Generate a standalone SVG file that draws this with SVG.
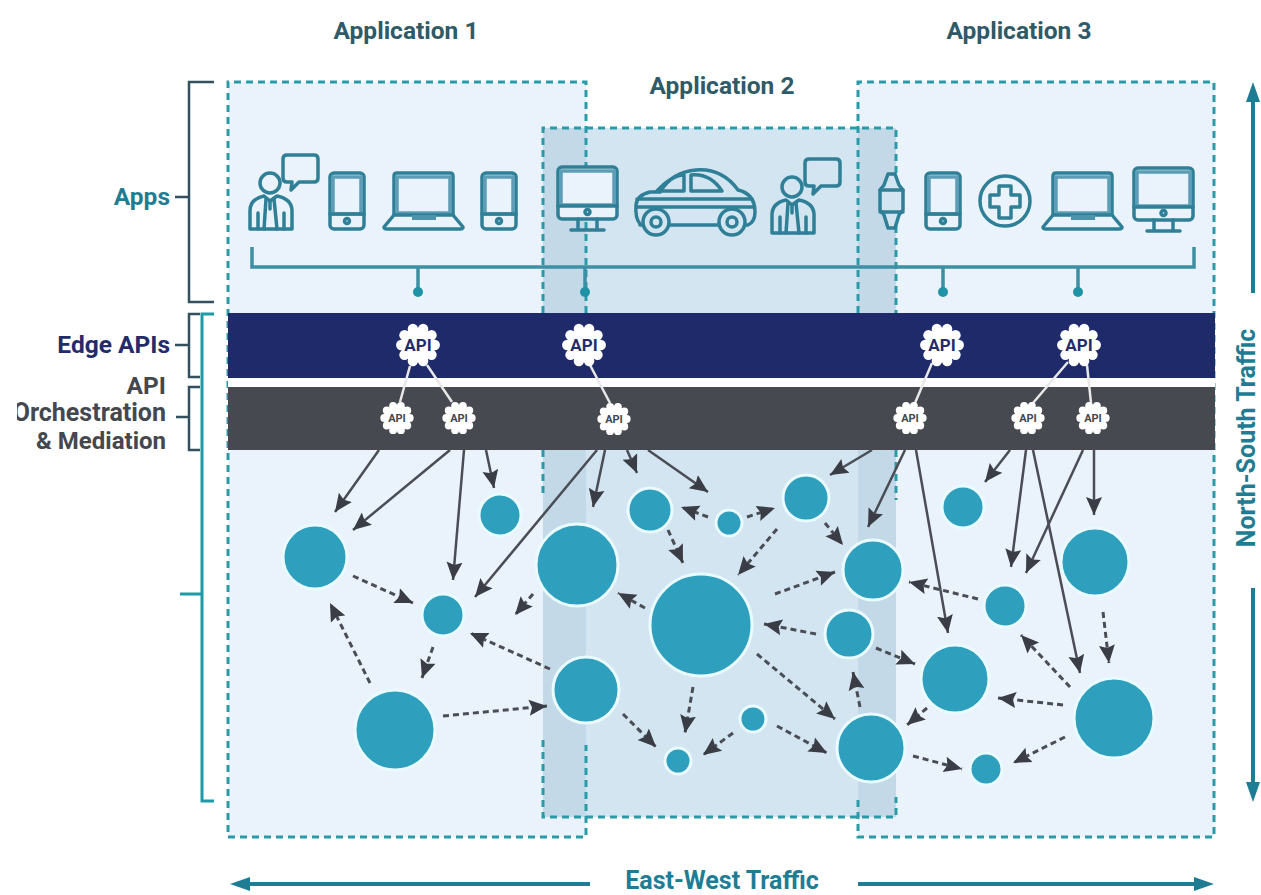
<svg xmlns="http://www.w3.org/2000/svg" width="1261" height="895" viewBox="0 0 1261 895">
<style>
.lbl{font-family:Roboto,"Liberation Sans",sans-serif;font-weight:700;font-size:24.500px;text-anchor:middle}
.app{fill:#2f5a68}
.teal{fill:#1e7d93}
.gray{fill:#44474d;text-anchor:end}
.navy{fill:#232b6b;text-anchor:end}
.dash{fill:none;stroke:#2a9ba6;stroke-width:3;stroke-dasharray:7 5}
.br{fill:none;stroke:#33505e;stroke-width:2.500}
.brt{fill:none;stroke:#1e9aa6;stroke-width:3}
.ic{fill:none;stroke:#2f7f97;stroke-width:3.500;stroke-linejoin:round;stroke-linecap:round}
.icf{fill:#eaf3fb;stroke:#2f7f97;stroke-width:3.500;stroke-linejoin:round}
.icd{fill:#d3e5f1;stroke:#2f7f97;stroke-width:3.500;stroke-linejoin:round}
.in{fill:none;stroke:#5d9db5;stroke-width:3.500}
.bus{fill:none;stroke:#3d8fa3;stroke-width:3.500}
.dot{fill:#1f93a6}
.n{fill:#2f9fbe;stroke:#e9fbff;stroke-width:3}
.s{fill:none;stroke:#4a4d55;stroke-width:2.500;marker-end:url(#ah)}
.d{fill:none;stroke:#4a4d55;stroke-width:3;stroke-dasharray:6 4;marker-end:url(#ah)}
.w{stroke:#e8e8e8;stroke-width:2.500;fill:none}
.g1{font-family:Roboto,"Liberation Sans",sans-serif;font-weight:700;font-size:17px;text-anchor:middle;fill:#232b6b}
.g2{font-family:Roboto,"Liberation Sans",sans-serif;font-weight:700;font-size:11px;text-anchor:middle;fill:#44474d}
.big{fill:none;stroke:#1e7d93;stroke-width:4}
.hd{fill:#1e7d93}
</style>
<defs>
<marker id="ah" markerUnits="userSpaceOnUse" markerWidth="22" markerHeight="20" refX="18" refY="9" orient="auto"><path d="M0 1 L18 9 L0 17 L3 9Z" fill="#3a3d45"/></marker>
<clipPath id="cut"><rect x="17" y="395" width="160" height="40"/></clipPath>
<g id="gear">
<circle r="15.500" fill="#fff"/>
<circle cx="15" cy="0" r="4.600" fill="#fff"/><circle cx="12.100" cy="8.800" r="4.600" fill="#fff"/><circle cx="4.600" cy="14.300" r="4.600" fill="#fff"/><circle cx="-4.600" cy="14.300" r="4.600" fill="#fff"/><circle cx="-12.100" cy="8.800" r="4.600" fill="#fff"/><circle cx="-15" cy="0" r="4.600" fill="#fff"/><circle cx="-12.100" cy="-8.800" r="4.600" fill="#fff"/><circle cx="-4.600" cy="-14.300" r="4.600" fill="#fff"/><circle cx="4.600" cy="-14.300" r="4.600" fill="#fff"/><circle cx="12.100" cy="-8.800" r="4.600" fill="#fff"/>
</g>
<g id="person">
<circle class="ic" cx="270" cy="183" r="10"/>
<path class="ic" d="M250 229V211Q250 199 264 196L270 201L277 196Q292 199 292 211V229Z"/>
<path class="ic" d="M258 229V213M284 229V213M266 199L264 229M274 199L277 229M270 201V209"/>
<path class="ic" d="M287 155H314Q318 155 318 159V178Q318 182 314 182H299L291 190L292 182H287Q283 182 283 178V159Q283 155 287 155Z"/>
</g>
<g id="phone">
<rect class="icf" x="0" y="0" width="34" height="56" rx="4"/>
<rect class="in" x="3" y="4" width="28" height="37"/>
<path class="ic" d="M0 41H34"/>
<circle class="ic" cx="17" cy="48" r="2.500"/>
</g>
<g id="laptop">
<path class="icf" d="M10 42V3Q10 0 13 0H66Q69 0 69 3V42Z"/>
<rect class="in" x="13" y="4" width="53" height="36"/>
<path class="icf" d="M10 42H69L79 54Q79 56 76 56H3Q0 56 0 54Z"/>
<path d="M28 42H52V47H28Z" fill="#4f93ab"/>
</g>
<g id="monitor">
<rect class="icf" x="0" y="0" width="59" height="52" rx="4"/>
<rect class="in" x="3" y="4" width="53" height="34"/>
<path class="ic" d="M0 39H59M20 52V62M39 52V62M13 63H46"/>
<circle class="ic" cx="29.500" cy="45" r="2.500"/>
</g>
</defs>
<rect width="1261" height="895" fill="#fff"/>

<g id="panels">
<rect x="228" y="82" width="358" height="755" fill="#eaf3fb"/>
<rect x="858" y="82" width="356" height="755" fill="#eaf3fb"/>
<rect x="543" y="128" width="353" height="689" fill="#d3e5f1"/>
<rect x="543" y="128" width="43" height="689" fill="#c3d9e8"/>
<rect x="858" y="128" width="38" height="689" fill="#c3d9e8"/>
<path class="dash" d="M586 313V82H228V837H586V745"/>
<path class="dash" d="M858 800V837H1214V82H858V313"/>
<path class="dash" d="M543 313V128H896V313M543 450V493M543 740V817H896V797M896 450V500"/>
</g>

<g id="bands">
<rect x="228" y="313" width="987" height="65" fill="#1f2a6b"/>
<rect x="228" y="378" width="987" height="9" fill="#fff"/>
<rect x="228" y="387" width="987" height="63" fill="#46494f"/>
</g>

<g id="brackets">
<path class="br" d="M214 82H189V302H214M175 197H189"/>
<path class="br" d="M200 314H189V377H200M175 345H189"/>
<path class="br" d="M200 387H189V450H200M176 417H189"/>
<path class="brt" d="M214 314H202V801H214M180 594H202"/>
</g>

<g id="labels">
<text class="lbl app" x="406" y="39">Application 1</text>
<text class="lbl app" x="722" y="94">Application 2</text>
<text class="lbl app" x="1019" y="39">Application 3</text>
<text class="lbl teal" x="170" y="205" style="text-anchor:end">Apps</text>
<text class="lbl navy" x="170" y="353">Edge APIs</text>
<text class="lbl gray" x="166" y="394">API</text>
<text class="lbl gray" x="166" y="421" clip-path="url(#cut)" style="font-size:25px">Orchestration</text>
<text class="lbl gray" x="166" y="449" style="font-size:24px">&amp; Mediation</text>
<text class="lbl teal" x="722" y="889" style="font-size:25px">East-West Traffic</text>
<text class="lbl teal" transform="translate(1255 438) rotate(-90)" style="font-size:25px">North-South Traffic</text>
</g>

<g id="icons">
<use href="#person"/>
<use href="#phone" x="330" y="173"/>
<use href="#laptop" x="384" y="173"/>
<use href="#phone" x="482" y="173"/>
<use href="#monitor" x="558" y="167"/>
<g id="car">
<path class="icd" d="M640 224Q635 218 636 205Q637 195 650 192H660Q672 172 696 170Q722 168 738 190Q755 194 755 212Q755 222 748 225H640Z"/>
<path class="ic" d="M657 191Q672 175 684 175V191ZM691 175Q710 173 722 191H691ZM637 199H752M637 207H754"/>
<circle class="icd" cx="656" cy="222" r="13"/><circle class="ic" cx="656" cy="222" r="5"/>
<circle class="icd" cx="732" cy="222" r="13"/><circle class="ic" cx="732" cy="222" r="5"/>
</g>
<use href="#person" x="522" y="4"/>
<g id="watch">
<path class="icd" d="M884 185L888 174H895L899 185L903 190V210L899 215L895 228H888L884 215L880 210V190Z"/>
<path class="ic" d="M880 190H903M880 212H903"/>
</g>
<use href="#phone" x="926" y="173"/>
<g id="plus">
<circle class="ic" cx="1005" cy="201" r="25"/>
<path class="ic" d="M999 186H1011V195H1020V207H1011V218H999V207H990V195H999Z"/>
</g>
<use href="#laptop" x="1043" y="173"/>
<use href="#monitor" x="1134" y="168"/>
</g>

<g id="connectors">
<path class="bus" d="M252 247V267H1194V247M418 267V292M585 267V292M943 267V292M1078 267V292"/>
<circle class="dot" cx="418" cy="292" r="5"/><circle class="dot" cx="585" cy="292" r="5"/><circle class="dot" cx="943" cy="292" r="5"/><circle class="dot" cx="1078" cy="292" r="5"/>
<path class="w" d="M410 366L400 402M427 365L452 402M590 365L610 403M932 363L915 403M1068 362L1033 403M1087 365L1091 403"/>
<path class="s" d="M379 450L335 512"/>
<path class="s" d="M450 450L353 530"/>
<path class="s" d="M464 450L453 580"/>
<path class="s" d="M486 450L494 488"/>
<path class="s" d="M597 450L475 597"/>
<path class="s" d="M605 450L593 507"/>
<path class="s" d="M627 450L637 473"/>
<path class="s" d="M648 450L708 492"/>
<path class="s" d="M872 450L830 475"/>
<path class="s" d="M905 450L868 527"/>
<path class="s" d="M916 450L948 633"/>
<path class="s" d="M1010 450L985 482"/>
<path class="s" d="M1026 450L1011 567"/>
<path class="s" d="M1033 450L1080 673"/>
<path class="s" d="M1083 450L1026 573"/>
<path class="s" d="M1094 450V515"/>
<path class="d" d="M353 576L413 603"/>
<path class="d" d="M370 683L330 603"/>
<path class="d" d="M433 647L422 678"/>
<path class="d" d="M533 594L515 615"/>
<path class="d" d="M550 669L470 633"/>
<path class="d" d="M443 716L547 706"/>
<path class="d" d="M645 608L618 593"/>
<path class="d" d="M668 530L683 563"/>
<path class="d" d="M708 517L681 507"/>
<path class="d" d="M747 517L775 508"/>
<path class="d" d="M777 529L738 575"/>
<path class="d" d="M825 523L843 545"/>
<path class="d" d="M775 594L835 572"/>
<path class="d" d="M816 634L764 624"/>
<path class="d" d="M876 648L915 664"/>
<path class="d" d="M860 707L853 672"/>
<path class="d" d="M757 654L835 719"/>
<path class="d" d="M693 687L685 733"/>
<path class="d" d="M623 714L656 747"/>
<path class="d" d="M733 733L703 755"/>
<path class="d" d="M777 726L827 753"/>
<path class="d" d="M978 599L909 582"/>
<path class="d" d="M1103 612L1109 663"/>
<path class="d" d="M1070 687L1021 635"/>
<path class="d" d="M1063 705L998 698"/>
<path class="d" d="M927 708L907 725"/>
<path class="d" d="M913 756L962 769"/>
<path class="d" d="M1065 737L1013 763"/>
</g>

<g id="traffic-arrows">
<path class="big" d="M1253 293V95"/><path class="hd" d="M1253 82L1260 102H1246Z"/>
<path class="big" d="M1253 588V788"/><path class="hd" d="M1253 802L1260 782H1246Z"/>
<path class="big" d="M590 884H245"/><path class="hd" d="M230 884L250 877V891Z"/>
<path class="big" d="M858 884H1200"/><path class="hd" d="M1214 884L1194 877V891Z"/>
</g>

<g id="api-edge-1"><use href="#gear" transform="translate(418 345) scale(1.120)"/><text class="g1" x="418" y="351">API</text></g>
<g id="api-edge-2"><use href="#gear" transform="translate(584 345) scale(1.120)"/><text class="g1" x="584" y="351">API</text></g>
<g id="api-edge-3"><use href="#gear" transform="translate(942 345) scale(1.120)"/><text class="g1" x="942" y="351">API</text></g>
<g id="api-edge-4"><use href="#gear" transform="translate(1079 345) scale(1.120)"/><text class="g1" x="1079" y="351">API</text></g>
<g id="api-orch-1"><use href="#gear" transform="translate(397 418) scale(.85)"/><text class="g2" x="397" y="422">API</text></g>
<g id="api-orch-2"><use href="#gear" transform="translate(459 418) scale(.85)"/><text class="g2" x="459" y="422">API</text></g>
<g id="api-orch-3"><use href="#gear" transform="translate(614 419) scale(.85)"/><text class="g2" x="614" y="423">API</text></g>
<g id="api-orch-4"><use href="#gear" transform="translate(910 418) scale(.85)"/><text class="g2" x="910" y="422">API</text></g>
<g id="api-orch-5"><use href="#gear" transform="translate(1028 418) scale(.85)"/><text class="g2" x="1028" y="422">API</text></g>
<g id="api-orch-6"><use href="#gear" transform="translate(1093 418) scale(.85)"/><text class="g2" x="1093" y="422">API</text></g>

<g id="svc-1"><circle class="n" cx="315" cy="557" r="32"/></g>
<g id="svc-2"><circle class="n" cx="500" cy="515" r="21"/></g>
<g id="svc-3"><circle class="n" cx="443" cy="615" r="21"/></g>
<g id="svc-4"><circle class="n" cx="395" cy="730" r="40"/></g>
<g id="svc-5"><circle class="n" cx="577" cy="565" r="41"/></g>
<g id="svc-6"><circle class="n" cx="586" cy="690" r="33"/></g>
<g id="svc-7"><circle class="n" cx="650" cy="510" r="22"/></g>
<g id="svc-8"><circle class="n" cx="729" cy="523" r="13"/></g>
<g id="svc-9"><circle class="n" cx="806" cy="498" r="23"/></g>
<g id="svc-10"><circle class="n" cx="873" cy="570" r="30"/></g>
<g id="svc-11"><circle class="n" cx="701" cy="625" r="51"/></g>
<g id="svc-12"><circle class="n" cx="849" cy="634" r="24"/></g>
<g id="svc-13"><circle class="n" cx="955" cy="679" r="34"/></g>
<g id="svc-14"><circle class="n" cx="871" cy="748" r="34"/></g>
<g id="svc-15"><circle class="n" cx="753" cy="719" r="13"/></g>
<g id="svc-16"><circle class="n" cx="678" cy="761" r="13"/></g>
<g id="svc-17"><circle class="n" cx="986" cy="769" r="16"/></g>
<g id="svc-18"><circle class="n" cx="1114" cy="718" r="40"/></g>
<g id="svc-19"><circle class="n" cx="1005" cy="606" r="21"/></g>
<g id="svc-20"><circle class="n" cx="1095" cy="562" r="34"/></g>
<g id="svc-21"><circle class="n" cx="963" cy="507" r="21"/></g>
</svg>
